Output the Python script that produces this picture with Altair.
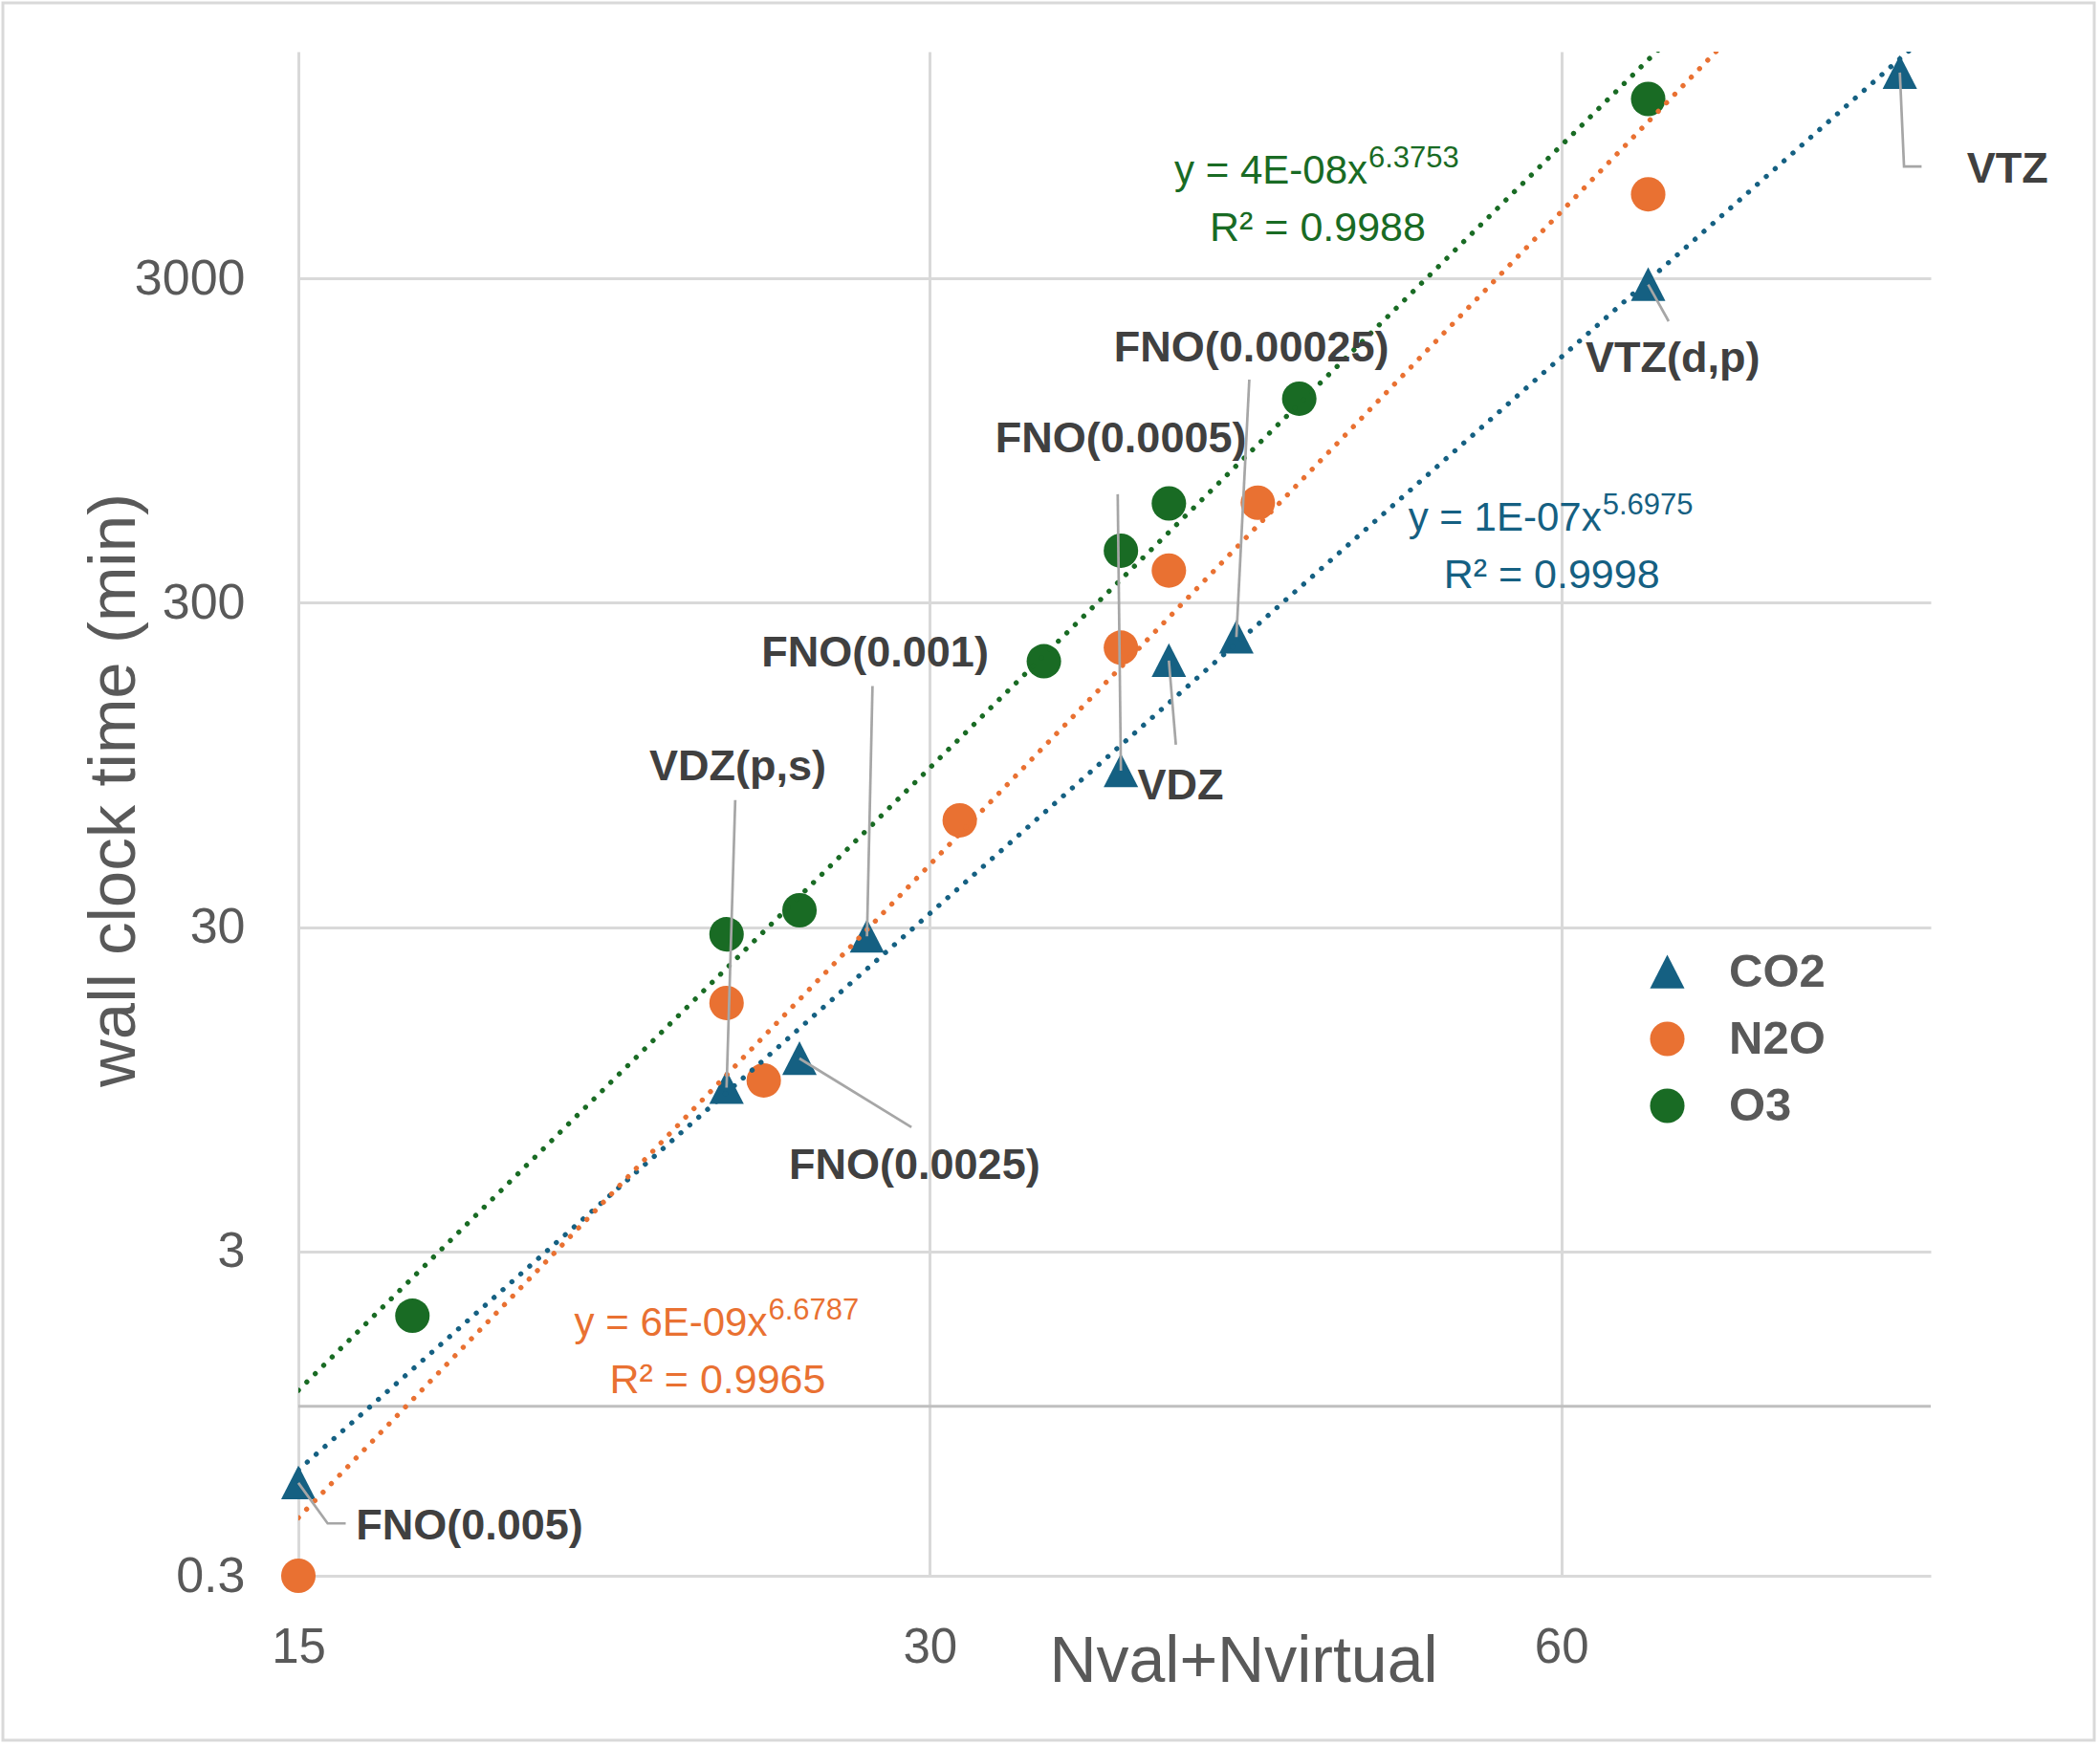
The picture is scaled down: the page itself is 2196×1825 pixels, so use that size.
import altair as alt
import pandas as pd

FONT = "Liberation Sans"

# ---- series -------------------------------------------------------------
series_names = ["CO2", "N2O", "O3"]
series_colors = ["#156082", "#E97132", "#196B24"]

co2_x = [15, 24, 26, 28, 37, 39, 42, 66, 87]
co2_y = [0.58, 9.6, 11.8, 28.1, 91, 199, 235, 2870, 12930]
co2_labels = ["FNO(0.005)", "VDZ(p,s)", "FNO(0.0025)", "FNO(0.001)",
              "FNO(0.0005)", "VDZ", "FNO(0.00025)", "VTZ(d,p)", "VTZ"]

n2o_x = [15, 24, 25, 31, 37, 39, 43, 66]
n2o_y = [0.30, 17.5, 10.1, 64, 218, 377, 610, 5450]

o3_x = [17, 24, 26, 34, 37, 39, 45, 66]
o3_y = [1.90, 28.5, 33.8, 198, 434, 607, 1277, 10720]

# ---- axes ---------------------------------------------------------------
x_ticks = [15, 30, 60]
y_ticks = [0.3, 3, 30, 300, 3000]
x_domain = [15, 90]
y_domain = [0.3, 15000]
axis_cross = [1]

# ---- trendline captions (power fits) --------------------------------------
fit_series = ["CO2", "N2O", "O3"]
fit_main = ["y = 1E-07x", "y = 6E-09x", "y = 4E-08x"]
fit_exp = ["5.6975", "6.6787", "6.3753"]
fit_r2 = ["R\u00b2 = 0.9998", "R\u00b2 = 0.9965", "R\u00b2 = 0.9988"]
fit_anchor_x = [62.7, 25.1, 48.5]
fit_anchor_y = [499, 1.65, 5880]

# ---- data-label layout (data coordinates) ---------------------------------
label_x = [18.1, 24.3, 29.5, 28.25, 37.0, 39.5, 42.7, 67.8, 97.9]
label_y = [0.388, 85.2, 5.02, 190.2, 873, 74.4, 1662, 1539, 5936]
leader_path = [
    [(15.49, 0.435), (15.80, 0.435)],
    [(24.23, 73.9)],
    [(29.4, 7.25)],
    [(28.17, 166)],
    [(36.87, 648)],
    [(39.3, 109.4)],
    [(42.6, 1462)],
    [(67.5, 2212)],
    [(87.4, 6633), (89.1, 6633)],
]

# ---- tables -------------------------------------------------------------
rows = []
for name, xs, ys in [("CO2", co2_x, co2_y), ("N2O", n2o_x, n2o_y), ("O3", o3_x, o3_y)]:
    for xv, yv in zip(xs, ys):
        rows.append({"series": name, "x": xv, "y": yv})
points = pd.DataFrame(rows)

leader_rows = []
for lab, px, py, path in zip(co2_labels, co2_x, co2_y, leader_path):
    leader_rows.append({"label": lab, "step": 0, "x": px, "y": py})
    for i, (ex, ey) in enumerate(path, start=1):
        leader_rows.append({"label": lab, "step": i, "x": ex, "y": ey})
leaders = pd.DataFrame(leader_rows)

labels = pd.DataFrame({"label": co2_labels, "x": label_x, "y": label_y})

fits = pd.DataFrame({
    "series": fit_series, "main": fit_main, "exp": fit_exp, "r2": fit_r2,
    "x": fit_anchor_x, "y": fit_anchor_y,
})

cross = pd.DataFrame({"y": axis_cross})

# ---- shared encodings ----------------------------------------------------
PLOT_W, PLOT_H = 1707, 1594

xscale = alt.Scale(type="log", base=2, domain=x_domain, nice=False)
yscale = alt.Scale(type="log", domain=y_domain, nice=False)

xaxis = alt.Axis(
    values=x_ticks, format="d", grid=True, gridColor="#d9d9d9", gridWidth=3,
    ticks=False, domain=False, labelFlush=False, labelOverlap=False,
    labelFontSize=51, labelColor="#595959", labelPadding=50,
    titleFontSize=68, titleColor="#595959", titleFontWeight="normal",
    titleX=988, titleY=110, titleBaseline="alphabetic", titleAlign="center",
)
yaxis = alt.Axis(
    values=y_ticks, format="~g", grid=True, gridColor="#d9d9d9", gridWidth=3,
    ticks=False, domain=False, labelFlush=False, labelOverlap=False,
    labelFontSize=52, labelColor="#595959", labelPadding=56,
    titleFontSize=69, titleColor="#595959", titleFontWeight="normal",
    titleX=-172, titleY=772, titleAngle=270, titleBaseline="alphabetic",
    titleAlign="center",
)


def X(field="x"):
    return alt.X(f"{field}:Q", scale=xscale, axis=xaxis, title="Nval+Nvirtual")


def Y(field="y"):
    return alt.Y(f"{field}:Q", scale=yscale, axis=yaxis, title="wall clock time (min)")


color_scale = alt.Scale(domain=series_names, range=series_colors)
TRIANGLE = "M0,-1L1,0.95L-1,0.95Z"
shape_scale = alt.Scale(domain=series_names, range=[TRIANGLE, "circle", "circle"])

legend = alt.Legend(
    orient="none", legendX=1407, legendY=938, title=None, padding=0,
    labelFontSize=49, labelFont=FONT, labelFontWeight="bold", labelColor="#595959",
    symbolSize=1300, symbolStrokeWidth=0, rowPadding=20, labelOffset=40,
)

# ---- layers -------------------------------------------------------------
frame = alt.Chart(pd.DataFrame({"k": [0]})).mark_rect(
    fillOpacity=0, stroke="#d9d9d9", strokeWidth=3, clip=False
).encode(
    x=alt.value(-309), x2=alt.value(1878), y=alt.value(-51), y2=alt.value(1766)
)

cross_rule = alt.Chart(cross).mark_rule(color="#bfbfbf", strokeWidth=3).encode(y=Y())

markers = alt.Chart(points).mark_point(
    filled=True, size=1300, opacity=1, strokeWidth=0
).encode(
    x=X(), y=Y(),
    color=alt.Color("series:N", scale=color_scale, legend=legend),
    shape=alt.Shape("series:N", scale=shape_scale, legend=legend),
)

trends = alt.Chart(points).transform_regression(
    "x", "y", groupby=["series"], method="pow", extent=x_domain
).mark_line(
    clip=True, strokeWidth=5.3, strokeDash=[0.1, 12.3], strokeCap="round"
).encode(
    x=X(), y=Y(),
    color=alt.Color("series:N", scale=color_scale, legend=None),
)

leader_lines = alt.Chart(leaders).mark_line(
    color="#a6a6a6", strokeWidth=2.7
).encode(
    x=X(), y=Y(), detail="label:N", order="step:Q"
)

label_text = alt.Chart(labels).mark_text(
    font=FONT, fontSize=45, fontWeight="bold", color="#404040",
    align="center", baseline="alphabetic"
).encode(x=X(), y=Y(), text="label:N")

fit_main_text = alt.Chart(fits).mark_text(
    font=FONT, fontSize=42, align="right", baseline="alphabetic"
).encode(
    x=X(), y=Y(), text="main:N",
    color=alt.Color("series:N", scale=color_scale, legend=None),
)
fit_exp_text = alt.Chart(fits).mark_text(
    font=FONT, fontSize=31, align="left", baseline="alphabetic", dx=1, dy=-17
).encode(
    x=X(), y=Y(), text="exp:N",
    color=alt.Color("series:N", scale=color_scale, legend=None),
)
fit_r2_text = alt.Chart(fits).mark_text(
    font=FONT, fontSize=43, align="center", baseline="alphabetic", dx=-52, dy=60
).encode(
    x=X(), y=Y(), text="r2:N",
    color=alt.Color("series:N", scale=color_scale, legend=None),
)

chart = alt.layer(
    frame, cross_rule, markers, trends, leader_lines, label_text,
    fit_main_text, fit_exp_text, fit_r2_text,
).properties(
    width=PLOT_W, height=PLOT_H,
    autosize=alt.AutoSizeParams(type="none"),
    padding={"left": 312, "top": 54, "right": 2196 - 312 - PLOT_W, "bottom": 177},
    background="white",
).configure_axis(
    labelFont=FONT, titleFont=FONT
).configure_view(
    stroke="transparent"
)

chart.save("out.html", embed_options={"renderer": "svg", "actions": False})
